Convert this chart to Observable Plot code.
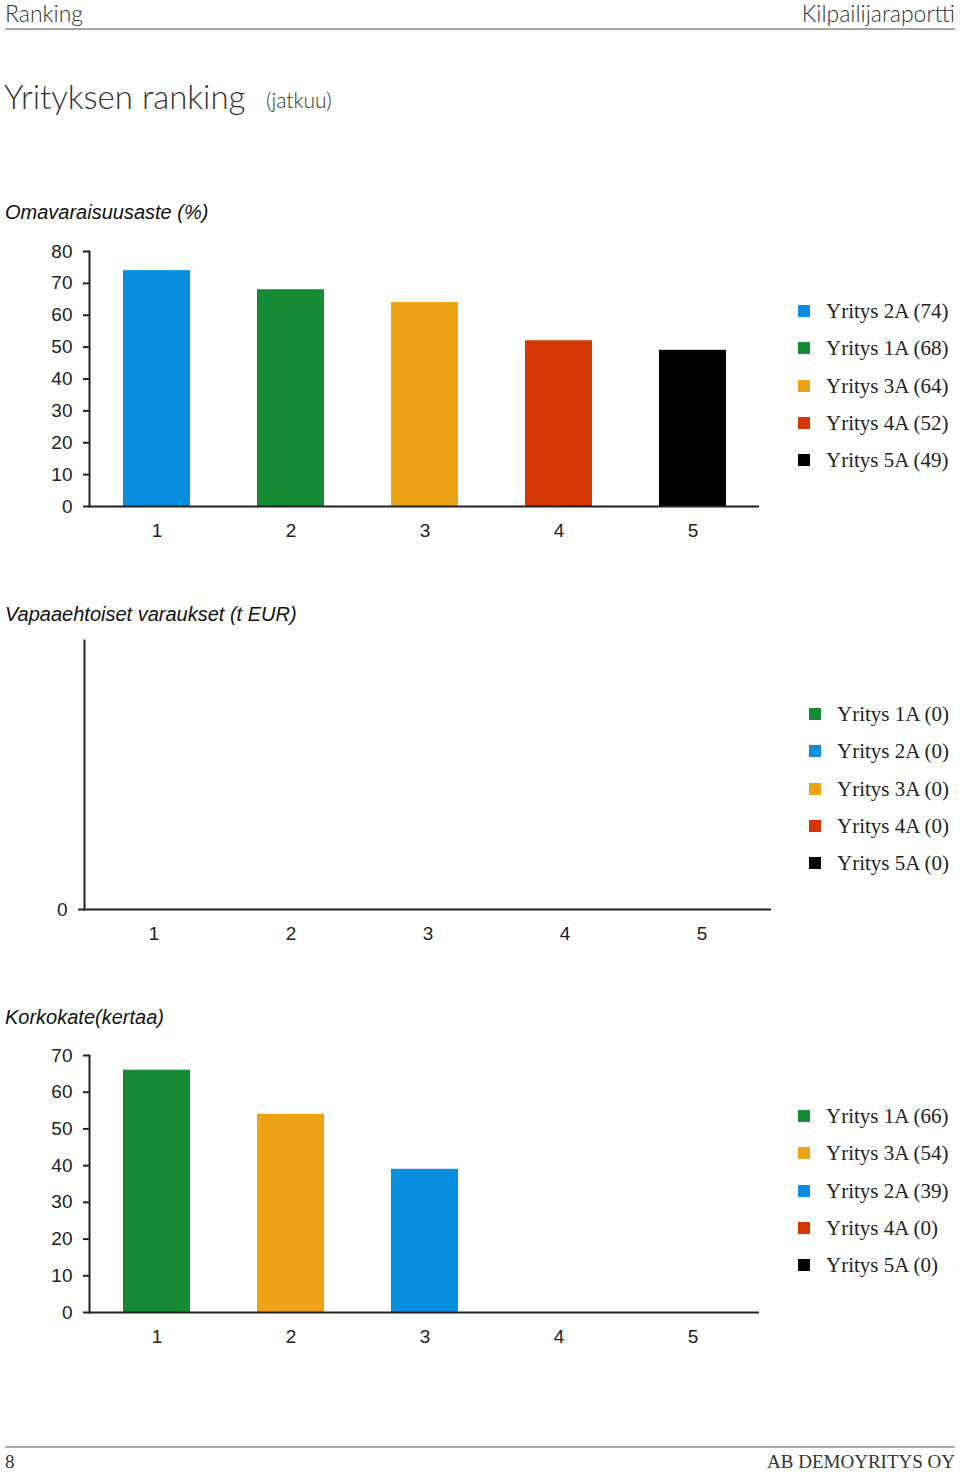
<!DOCTYPE html>
<html>
<head>
<meta charset="utf-8">
<script src="https://cdn.jsdelivr.net/npm/d3@7"></script>
<script src="https://cdn.jsdelivr.net/npm/@observablehq/plot@0.6"></script>
<style>
  html, body { margin: 0; padding: 0; background: #fff; }
  #page { position: relative; width: 960px; height: 1473px; overflow: hidden; background: #fff; color: #222; }
  .abs { position: absolute; white-space: nowrap; }
  .hdr { font-family: Lato, "Open Sans", sans-serif; font-weight: 300; color: #333; }
  .sec { font-family: "Liberation Sans", Arial, sans-serif; font-style: italic; font-size: 20px; color: #111; }
  .rule { position: absolute; height: 0; border-top: 2px solid #a8a8a8; }
  .legend { position: absolute; font-family: "Liberation Serif", "Times New Roman", serif; font-size: 21px; color: #222; }
  .legend .row { position: absolute; left: 0; height: 24px; line-height: 24px; white-space: nowrap; }
  .legend .sw { position: absolute; width: 12px; height: 12px; top: 6px; left: 0; }
  .legend .tx { position: absolute; top: 0; }
  .plot { position: absolute; left: 0; }
</style>
</head>
<body>
<div id="page"></div>
<script>
// ---------- data ----------
const ranks = [1, 2, 3, 4, 5];
const companyNames = ["Yritys 1A", "Yritys 2A", "Yritys 3A", "Yritys 4A", "Yritys 5A"];
const companyColors = ["#168a35", "#0a8fe0", "#eea317", "#d43605", "#000000"];

const equityTitle = "Omavaraisuusaste (%)";
const equityCompanies = ["Yritys 2A", "Yritys 1A", "Yritys 3A", "Yritys 4A", "Yritys 5A"];
const equityValues = [74, 68, 64, 52, 49];
const equityTicks = [0, 10, 20, 30, 40, 50, 60, 70, 80];

const reservesTitle = "Vapaaehtoiset varaukset (t EUR)";
const reservesCompanies = ["Yritys 1A", "Yritys 2A", "Yritys 3A", "Yritys 4A", "Yritys 5A"];
const reservesValues = [0, 0, 0, 0, 0];
const reservesTicks = [0];

const coverageTitle = "Korkokate(kertaa)";
const coverageCompanies = ["Yritys 1A", "Yritys 3A", "Yritys 2A", "Yritys 4A", "Yritys 5A"];
const coverageValues = [66, 54, 39, 0, 0];
const coverageTicks = [0, 10, 20, 30, 40, 50, 60, 70];

const headerLeft = "Ranking";
const headerRight = "Kilpailijaraportti";
const pageTitle = "Yrityksen ranking";
const pageSubtitle = "(jatkuu)";
const footerLeft = "8";
const footerRight = "AB DEMOYRITYS OY";

// ---------- page ----------
const page = document.getElementById("page");
function addText(txt, cls, css) {
  const d = document.createElement("div");
  d.className = "abs " + cls;
  d.textContent = txt;
  Object.assign(d.style, css);
  page.appendChild(d);
  return d;
}
function addRule(top) {
  const d = document.createElement("div");
  d.className = "rule";
  Object.assign(d.style, {left: "5px", width: "950px", top: top + "px"});
  page.appendChild(d);
}

addText(headerLeft, "hdr", {left: "5px", top: "-1px", fontSize: "23px", lineHeight: "28px"});
addText(headerRight, "hdr", {right: "5px", top: "-1px", fontSize: "23px", lineHeight: "28px"});
addRule(28);
addText(pageTitle, "hdr", {left: "4px", top: "75px", fontSize: "33px", lineHeight: "42px"});
addText(pageSubtitle, "hdr", {left: "266px", top: "86px", fontSize: "21px", lineHeight: "28px"});

addRule(1446);
addText(footerLeft, "", {left: "5px", top: "1450px", fontSize: "19px", lineHeight: "24px", fontFamily: "'Liberation Serif', serif", color: "#333"});
addText(footerRight, "", {right: "5px", top: "1450px", fontSize: "19px", lineHeight: "24px", fontFamily: "'Liberation Serif', serif", color: "#333"});

function colorOf(name) { return companyColors[companyNames.indexOf(name)]; }

function chart({title, titleTop, companies, values, ticks, ymax, top, width, marginLeft, marginRight, height, marginTop, marginBottom, legendLeft, legendTop}) {
  addText(title, "sec", {left: "5px", top: (titleTop - 12) + "px", lineHeight: "24px"});
  const data = ranks.map((r, i) => ({rank: r, company: companies[i], value: values[i]}));
  const svg = Plot.plot({
    width, height, marginLeft, marginRight, marginTop, marginBottom,
    style: {fontFamily: "'Liberation Sans', Arial, sans-serif", fontSize: "19px", color: "#222", background: "transparent", overflow: "visible"},
    x: {domain: ranks, paddingInner: 0.5, paddingOuter: 0.25, label: null},
    y: {domain: [0, ymax], label: null},
    color: {domain: companyNames, range: companyColors},
    marks: [
      Plot.barY(data, {x: "rank", y: "value", fill: "company"}),
      Plot.axisY({ticks, tickSize: 6, tickPadding: 11, label: null, strokeWidth: 2, tickFormat: d => String(d)}),
      Plot.axisX({tickSize: 0, tickPadding: 17, label: null}),
      Plot.ruleY([0], {strokeWidth: 2, stroke: "#222"}),
      Plot.frame({anchor: "left", strokeWidth: 2, stroke: "#222"})
    ]
  });
  svg.classList.add("plot");
  svg.style.top = top + "px";
  page.appendChild(svg);

  const leg = document.createElement("div");
  leg.className = "legend";
  leg.style.left = legendLeft + "px";
  leg.style.top = legendTop + "px";
  companies.forEach((c, i) => {
    const row = document.createElement("div");
    row.className = "row";
    row.style.top = (i * 37.3 - 12) + "px";
    const sw = document.createElement("div");
    sw.className = "sw";
    sw.style.background = colorOf(c);
    const tx = document.createElement("div");
    tx.className = "tx";
    tx.style.left = "28px";
    tx.textContent = `${c} (${values[i]})`;
    row.appendChild(sw);
    row.appendChild(tx);
    leg.appendChild(row);
  });
  page.appendChild(leg);
}

chart({title: equityTitle, titleTop: 212, companies: equityCompanies, values: equityValues, ticks: equityTicks, ymax: 80,
  top: 230, width: 780, height: 320, marginLeft: 89, marginRight: 21, marginTop: 21, marginBottom: 44,
  legendLeft: 798, legendTop: 311});

chart({title: reservesTitle, titleTop: 614, companies: reservesCompanies, values: reservesValues, ticks: reservesTicks, ymax: 1,
  top: 620, width: 790, height: 333, marginLeft: 84, marginRight: 19, marginTop: 20, marginBottom: 44,
  legendLeft: 809, legendTop: 714});

chart({title: coverageTitle, titleTop: 1017, companies: coverageCompanies, values: coverageValues, ticks: coverageTicks, ymax: 70,
  top: 1035, width: 780, height: 321, marginLeft: 89, marginRight: 21, marginTop: 20, marginBottom: 44,
  legendLeft: 798, legendTop: 1116});
</script>
</body>
</html>
